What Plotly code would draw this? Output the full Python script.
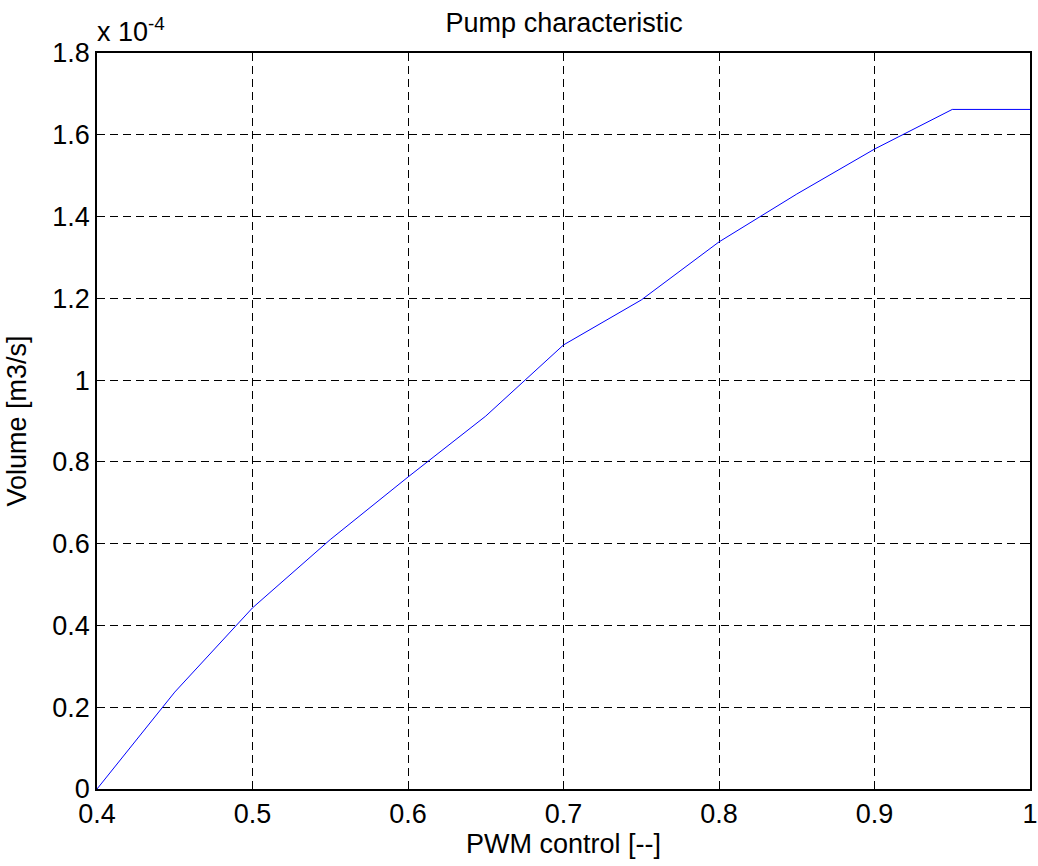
import plotly.graph_objects as go

# PWM duty cycle and resulting pump flow (flow in units of 1e-4 m3/s)
pwm = [0.40, 0.45, 0.50, 0.55, 0.60, 0.65, 0.70, 0.75, 0.80, 0.85, 0.90, 0.95, 1.00]
flow_e4 = [0.0, 0.237, 0.443, 0.61, 0.763, 0.912, 1.086, 1.196, 1.338, 1.455, 1.565, 1.662, 1.662]

x_ticks = [0.4, 0.5, 0.6, 0.7, 0.8, 0.9, 1.0]
x_tick_text = ["0.4", "0.5", "0.6", "0.7", "0.8", "0.9", "1"]
y_ticks = [0, 0.2, 0.4, 0.6, 0.8, 1.0, 1.2, 1.4, 1.6, 1.8]
y_tick_text = ["0", "0.2", "0.4", "0.6", "0.8", "1", "1.2", "1.4", "1.6", "1.8"]

FONT = "Liberation Sans, Arial, sans-serif"
FS = 27

fig = go.Figure()
fig.add_trace(go.Scatter(
    x=pwm, y=flow_e4, mode="lines",
    line=dict(color="rgb(0,0,255)", width=1),
    showlegend=False, hoverinfo="x+y",
))

axis_common = dict(
    showline=True, linecolor="black", linewidth=1.5, mirror="ticks",
    ticks="inside", ticklen=6, tickcolor="black",
    showgrid=True, gridcolor="black", gridwidth=1, griddash="8px,5px",
    zeroline=False, automargin=False, ticklabeloverflow="allow",
    tickfont=dict(family=FONT, size=FS, color="black"),
)

fig.update_xaxes(
    range=[0.4, 1.0], tickvals=x_ticks, ticktext=x_tick_text,
    title=dict(text="PWM control [--]", font=dict(family=FONT, size=FS, color="black"), standoff=4),
    **axis_common,
)
fig.update_yaxes(
    range=[0, 1.8], tickvals=y_ticks, ticktext=y_tick_text,
    title=dict(text="Volume [m3/s]", font=dict(family=FONT, size=FS, color="black"), standoff=18),
    **axis_common,
)

fig.update_layout(
    width=1038, height=866,
    margin=dict(l=97, r=8, t=53, b=77),
    paper_bgcolor="white", plot_bgcolor="white",
    title=dict(text="Pump characteristic", x=0.5435, xanchor="center", y=0.985, yanchor="top",
               font=dict(family=FONT, size=FS, color="black")),
    annotations=[dict(
        text="x 10<sup>-4</sup>", xref="paper", yref="paper", x=0, y=1.0,
        xanchor="left", yanchor="bottom", yshift=4, xshift=-2, showarrow=False,
        font=dict(family=FONT, size=FS, color="black"),
    )],
)

fig.write_html("out.html")
